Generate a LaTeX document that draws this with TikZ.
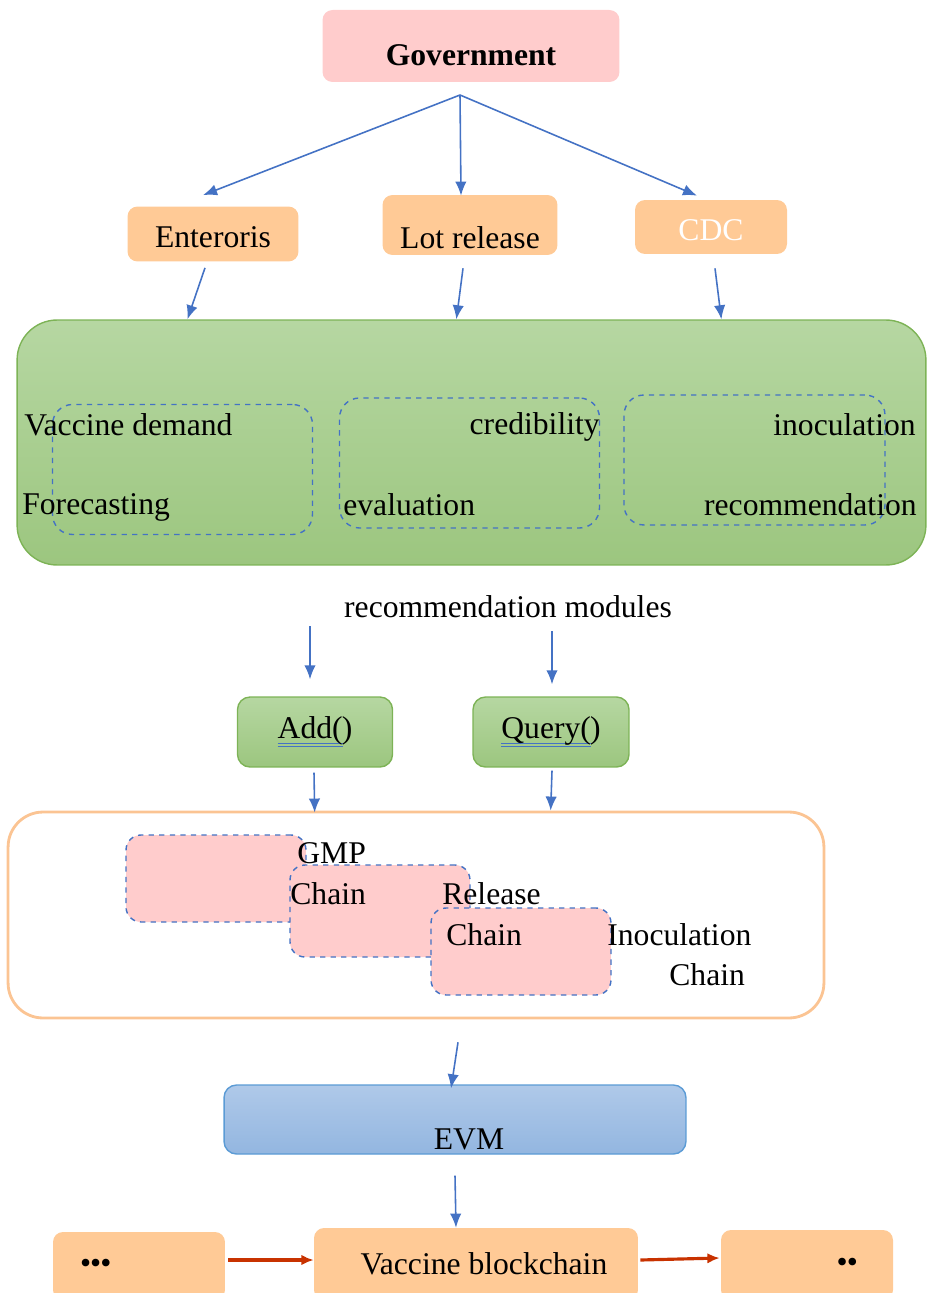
\documentclass[tikz,border=0pt]{standalone}
\usepackage{fontspec}
\setmainfont{Liberation Serif}
\usetikzlibrary{arrows.meta,calc}

\definecolor{flowblue}{HTML}{4472C4}
\definecolor{govpink}{HTML}{FFCCCC}
\definecolor{boxorange}{HTML}{FFCA96}
\definecolor{rimorange}{HTML}{FBC493}
\definecolor{grntop}{HTML}{B6D7A2}
\definecolor{grnbot}{HTML}{9CC67F}
\definecolor{grnrim}{HTML}{7DB356}
\definecolor{evmtop}{HTML}{AFC9E9}
\definecolor{evmbot}{HTML}{93B6E0}
\definecolor{evmrim}{HTML}{5B9BD5}
\definecolor{chainred}{HTML}{C83200}

% blue double underline, as a spell checker marks a word
\newcommand{\spellul}[1]{\setbox0\hbox{#1}\rlap{\color{flowblue}\rule[-3pt]{\wd0}{0.6pt}\kern-\wd0\rule[-4.8pt]{\wd0}{0.6pt}}\box0}
% text set lower in its box, box size unchanged
\newcommand{\lowr}[2]{\raisebox{-#1}[\height][\depth]{#2}}

\begin{document}
\begin{tikzpicture}[
        x=0.02cm, y=-0.02cm,
        font=\fontsize{18}{21}\selectfont,
        govbox/.style={rectangle, rounded corners=0.2cm, fill=govpink, minimum width=5.94cm, minimum height=1.44cm},
        orgbox/.style={rectangle, rounded corners=0.2cm, fill=boxorange, inner sep=0pt},
        grnbox/.style={rectangle, rounded corners=0.25cm, draw=grnrim, thick, top color=grntop, bottom color=grnbot, minimum width=3.1cm, minimum height=1.4cm},
        dashbox/.style={rectangle, rounded corners=0.4cm, draw=flowblue, thick, dashed, minimum width=5.2cm, minimum height=2.6cm},
        pinkbox/.style={rectangle, rounded corners=0.3cm, draw=flowblue, thick, dashed, fill=govpink, minimum width=3.6cm},
        txt/.style={inner sep=0pt},
        flow/.style={-{Latex[length=8pt,width=6.5pt]}, flowblue, line width=0.9pt},
        chainflow/.style={-{Latex[length=7pt,width=6pt]}, chainred, line width=1.8pt}
    ]
        \useasboundingbox (0,0) rectangle (928,1293);

        % Top: government and its three agencies
        \node[govbox] (gov) at (471,46) {\lowr{5pt}{\bfseries Government}};
        \coordinate (fork) at (460,95);
        \node[orgbox, minimum width=3.42cm, minimum height=1.1cm] (ent) at (213,234) {\lowr{2pt}{Enteroris}};
        \node[orgbox, minimum width=3.5cm, minimum height=1.2cm] (lot) at (470,225) {\lowr{7pt}{Lot release}};
        \node[orgbox, minimum width=3.04cm, minimum height=1.08cm, text=white] (cdc) at (711,227) {\lowr{2pt}{CDC}};

        \draw[flow] (fork) -- ($(ent.north)+(-10,-11)$);
        \draw[flow] (fork) -- ($(lot.north)+(-9,1)$);
        \draw[flow] (fork) -- ($(cdc.north)+(-14,-4)$);

        % Recommendation modules
        \node[rectangle, rounded corners=0.8cm, draw=grnrim, thick, top color=grntop, bottom color=grnbot,
            minimum width=18.18cm, minimum height=4.9cm] (modules) at (471.5,442.5) {};
        \node[dashbox] (dem) at (182.5,469.5) {};
        \node[dashbox] (cred) at (469.5,463) {};
        \node[dashbox, minimum width=5.22cm] (inoc) at (754.5,460) {};

        \node[txt, anchor=west] (demA) at (24,425) {Vaccine demand};
        \node[txt, anchor=west] (demB) at (22,507) {Forecasting};
        \node[txt, anchor=east] (credA) at (600,427) {credibility};
        \node[txt, anchor=west] (credB) at (343,505) {evaluation};
        \node[txt, anchor=east] (inocA) at (916,425) {inoculation};
        \node[txt, anchor=east] (inocB) at (917,505) {recommendation};

        \draw[flow] ($(ent.south)+(-8,6)$) -- ($(modules.north west)+(171,0)$);
        \draw[flow] ($(lot.south)+(-7,13)$) -- ($(modules.north west)+(440,0)$);
        \draw[flow] ($(cdc.south)+(4,14)$) -- ($(modules.north west)+(705,0)$);

        \node (modlabel) at (508,607) {recommendation modules};

        % Contract calls
        \node[grnbox] (add) at (315,732) {\spellul{Add(}\kern-0.5pt)};
        \node[grnbox, minimum width=3.12cm] (query) at (551,732) {\spellul{Query(}\kern-0.5pt)};

        \draw[flow] ($(add.north)+(-5,-70)$) -- ($(add.north)+(-5,-17)$);
        \draw[flow] ($(query.north)+(1,-65)$) -- ($(query.north)+(1,-12)$);

        % Chains
        \node[rectangle, rounded corners=0.7cm, draw=rimorange, line width=1.6pt, fill=white,
            minimum width=16.32cm, minimum height=4.12cm] (chains) at (416,915) {};
        \node[pinkbox, minimum height=1.74cm] (gmp) at (216,878.5) {};
        \node[pinkbox, minimum height=1.84cm] (rel) at (380,911) {};
        \node[pinkbox, minimum height=1.74cm] (ino) at (521,951.5) {};

        \node[txt, anchor=west] (gmpA) at (297,853) {GMP};
        \node[txt, anchor=west] (gmpB) at (290,894) {Chain};
        \node[txt, anchor=west] (relA) at (442,894) {Release};
        \node[txt, anchor=west] (relB) at (446,935) {Chain};
        \node[txt, anchor=west] (inoA) at (607,935) {Inoculation};
        \node[txt, anchor=west] (inoB) at (669,975) {Chain};

        \draw[flow] ($(add.south)+(-1,5)$) -- ($(chains.north west)+(308,2)$);
        \draw[flow] ($(query.south)+(1,3)$) -- ($(chains.north west)+(544,0)$);

        % EVM and the vaccine blockchain
        \node[rectangle, rounded corners=0.25cm, draw=evmrim, thick, top color=evmtop, bottom color=evmbot,
            minimum width=9.24cm, minimum height=1.38cm] (evm) at (455,1119.5) {\raisebox{-17pt}[0pt][0pt]{\hspace{16pt}EVM}};
        \draw[flow] ($(evm.north)+(3,-42)$) -- ($(evm.north)+(-4,4)$);

        \node[orgbox, minimum width=6.48cm, minimum height=1.44cm] (vbc) at (476,1264) {\hspace{9pt}Vaccine blockchain};
        \node[orgbox, minimum width=3.44cm, minimum height=1.36cm, text width=2.36cm, align=left] (prev) at (139,1266) {\textbullet\kern-0.5pt\textbullet\kern-0.5pt\textbullet};
        \node[orgbox, minimum width=3.44cm, minimum height=1.4cm, text width=2.04cm, align=right] (next) at (807,1265) {\textbullet\kern-0.5pt\textbullet};

        \draw[flow] ($(evm.south)+(0,21)$) -- ($(vbc.north)+(-20,0)$);
        \draw[chainflow] ($(prev.east)+(3,-6)$) -- ($(vbc.west)+(0,-4)$);
        \draw[chainflow] ($(vbc.east)+(2,-4)$) -- ($(next.west)+(-1,-7)$);
    \end{tikzpicture}
\end{document}
